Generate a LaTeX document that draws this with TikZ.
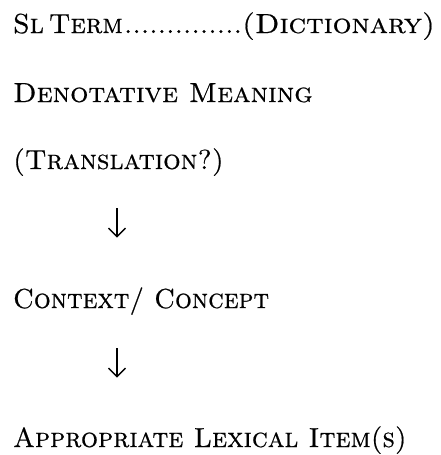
\documentclass[tikz,border=0pt]{standalone}
\usepackage{fontspec}
\usepackage{graphicx}
\usetikzlibrary{arrows.meta}
% Latin Modern caps-and-small-caps face, slightly emboldened
\newfontfamily\capsfont{lmromancaps10-regular.otf}[FakeBold=0.6]
\tikzset{
  rowtext/.style={anchor=base west, inner sep=0pt, outer sep=0pt,
    font=\fontsize{27.5}{30}\capsfont},
  downarr/.style={line width=1.3pt,
    -{Straight Barb[length=8.5pt,width=17pt,line width=1.3pt]}}
}
\begin{document}
\begin{tikzpicture}[x=1pt,y=-1pt]
  \useasboundingbox (0,0) rectangle (441,455);
  % text rows, baselines 69 units apart
  \node[rowtext] (term) at (13,33)
    {\hbox to 422pt{Sl\kern5pt Term\kern1pt\xleaders\hbox to 8.4pt{\hss.\hss}\hfill\scalebox{1.08}[1]{(Dictionary)}}};
  \node[rowtext] (denot)   at (13,102) {\scalebox{1.04}[1]{Denotative Meaning}};
  \node[rowtext] (transl)  at (13,169) {(Translation?)};
  \node[rowtext] (context) at (13,308) {\scalebox{0.965}[1]{Context/ Concept}};
  \node[rowtext] (lexical) at (13,447) {\scalebox{0.983}[1]{Appropriate Lexical Item(s)}};
  % arrows between the stages
  \coordinate (a1s) at (117,208);
  \coordinate (a1e) at (117,237.5);
  \coordinate (a2s) at (117,348);
  \coordinate (a2e) at (117,377.5);
  \draw[downarr] (a1s) -- (a1e);
  \draw[downarr] (a2s) -- (a2e);
\end{tikzpicture}
\end{document}
